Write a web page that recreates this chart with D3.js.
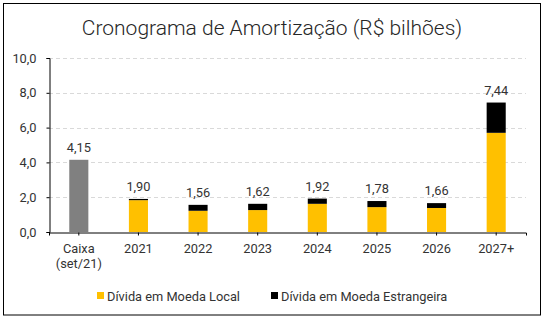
<!DOCTYPE html>
<html>
<head>
<meta charset="utf-8">
<script src="https://cdn.jsdelivr.net/npm/d3@7"></script>
<style>
  html, body { margin: 0; padding: 0; background: #fff; }
  svg text { font-family: Roboto, "Noto Sans", sans-serif; fill: #333; }
</style>
</head>
<body>
<svg id="chart" width="547" height="322"></svg>
<script>
// Amortization schedule (R$ billions)
const categories = ["Caixa|(set/21)", "2021", "2022", "2023", "2024", "2025", "2026", "2027+"];
const cashValues = [4.15, 0, 0, 0, 0, 0, 0, 0];
const localDebt = [0, 1.83, 1.22, 1.26, 1.62, 1.43, 1.38, 5.70];
const foreignDebt = [0, 0.07, 0.34, 0.36, 0.30, 0.35, 0.28, 1.74];
const totalLabels = ["4,15", "1,90", "1,56", "1,62", "1,92", "1,78", "1,66", "7,44"];
const yTicks = [0, 2, 4, 6, 8, 10];
const seriesNames = ["Dívida em Moeda Local", "Dívida em Moeda Estrangeira"];
const colors = { cash: "#808080", local: "#FFC000", foreign: "#000000" };

const svg = d3.select("#chart");
const margin = { left: 49, right: 526, top: 58, bottom: 232 };
const fontSize = 12.8;

const x = d3.scaleBand().domain(categories).range([margin.left, margin.right]).paddingInner(0.68).paddingOuter(0.34);
const y = d3.scaleLinear().domain([0, 10]).range([margin.bottom, margin.top]);

// outer frame
svg.append("rect").attr("x", 3.5).attr("y", 3.5).attr("width", 537).attr("height", 311.5)
  .attr("fill", "none").attr("stroke", "#000").attr("stroke-width", 1);

// title
svg.append("text").attr("x", 272).attr("y", 35).attr("text-anchor", "middle")
  .attr("font-size", 21).attr("font-weight", 300).style("fill", "#262626")
  .text("Cronograma de Amortização (R$ bilhões)");

// gridlines
svg.append("g").selectAll("line").data(yTicks.filter(d => d > 0)).join("line")
  .attr("x1", margin.left).attr("x2", margin.right)
  .attr("y1", d => Math.round(y(d)) + 0.5).attr("y2", d => Math.round(y(d)) + 0.5)
  .attr("stroke", "#d9d9d9").attr("stroke-dasharray", "4,3");

// y axis
const yAxis = svg.append("g").attr("transform", `translate(${margin.left + 0.5},0)`)
  .call(d3.axisLeft(y).tickValues(yTicks).tickSize(3).tickFormat(d => d3.format(".1f")(d).replace(".", ",")));
yAxis.select(".domain").attr("stroke", "#000");
yAxis.selectAll(".tick line").attr("stroke", "#000");
yAxis.selectAll("text").attr("font-size", fontSize).attr("x", -13).style("font-family", "Roboto").attr("fill", null);

// x axis
const xAxis = svg.append("g").attr("transform", `translate(0,${Math.round(y(0)) + 0.5})`)
  .call(d3.axisBottom(x).tickSize(3).tickSizeOuter(3).tickFormat(""));
xAxis.select(".domain").attr("stroke", "#000");
xAxis.selectAll(".tick line").attr("stroke", "#000");
xAxis.selectAll(".tick").each(function(d) {
  const parts = d.split("|");
  const t = d3.select(this).append("text").attr("text-anchor", "middle").attr("font-size", fontSize);
  parts.forEach((p, i) => t.append("tspan").attr("x", 0).attr("y", 20 + i * 15).text(p));
});

// bars
const idx = d3.range(categories.length);
const bars = svg.append("g");
bars.selectAll(".cash").data(idx.filter(i => cashValues[i] > 0)).join("rect")
  .attr("x", i => x(categories[i])).attr("width", x.bandwidth())
  .attr("y", i => y(cashValues[i])).attr("height", i => y(0) - y(cashValues[i]))
  .attr("fill", colors.cash);
bars.selectAll(".local").data(idx.filter(i => localDebt[i] > 0)).join("rect")
  .attr("x", i => x(categories[i])).attr("width", x.bandwidth())
  .attr("y", i => y(localDebt[i])).attr("height", i => y(0) - y(localDebt[i]))
  .attr("fill", colors.local);
bars.selectAll(".foreign").data(idx.filter(i => foreignDebt[i] > 0)).join("rect")
  .attr("x", i => x(categories[i])).attr("width", x.bandwidth())
  .attr("y", i => y(localDebt[i] + foreignDebt[i])).attr("height", i => y(localDebt[i]) - y(localDebt[i] + foreignDebt[i]))
  .attr("fill", colors.foreign);

// total labels
svg.append("g").selectAll("text").data(idx).join("text")
  .attr("x", i => x(categories[i]) + x.bandwidth() / 2)
  .attr("y", i => y(cashValues[i] + localDebt[i] + foreignDebt[i]) - 8)
  .attr("text-anchor", "middle").attr("font-size", fontSize)
  .text(i => totalLabels[i]);

// legend
const legend = svg.append("g");
const legendX = [97, 271];
seriesNames.forEach((name, i) => {
  legend.append("rect").attr("x", legendX[i]).attr("y", 292).attr("width", 7).attr("height", 7)
    .attr("fill", i === 0 ? colors.local : colors.foreign);
  legend.append("text").attr("x", legendX[i] + 10).attr("y", 300.5).attr("font-size", fontSize).text(name);
});
</script>
</body>
</html>
